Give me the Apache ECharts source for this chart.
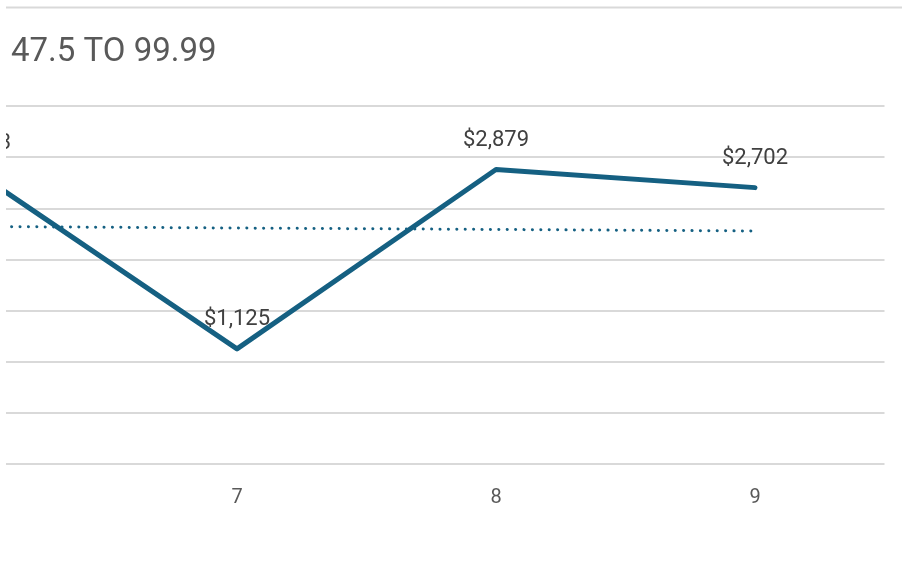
<!DOCTYPE html>
<html>
<head>
<meta charset="utf-8">
<script src="https://cdn.jsdelivr.net/npm/echarts@6/dist/echarts.min.js"></script>
<style>
html,body{margin:0;padding:0;background:#fff;}
#chart{width:902px;height:578px;}
</style>
</head>
<body>
<div id="chart"></div>
<script>
const titleText = "47.5 TO 99.99";
const categories = ["6", "7", "8", "9"];
const salesValues = [2843, 1125, 2879, 2702];
const trendValues = [2322, 2307, 2293, 2278];
const yTicks = [0, 500, 1000, 1500, 2000, 2500, 3000, 3500];

const chart = echarts.init(document.getElementById('chart'), null, {renderer: 'canvas'});
const lineColor = '#156082';
chart.setOption({
  animation: false,
  backgroundColor: '#ffffff',
  title: {
    text: titleText,
    left: 6, top: 31,
    textStyle: {fontFamily: 'Roboto', fontSize: 33, fontWeight: 'normal', color: '#595959'}
  },
  grid: {left: -151.5, right: 17.5, top: 106, bottom: 114, containLabel: false, outerBoundsMode: 'none'},
  xAxis: {
    type: 'category',
    data: categories,
    boundaryGap: true,
    axisLine: {show: false},
    axisTick: {show: false},
    axisLabel: {margin: 24, fontFamily: 'Roboto', fontSize: 20, color: '#595959'}
  },
  yAxis: {
    type: 'value',
    min: yTicks[0],
    max: yTicks[yTicks.length - 1],
    interval: 500,
    axisLabel: {show: false},
    axisLine: {show: false},
    axisTick: {show: false},
    splitLine: {lineStyle: {color: '#d9d9d9', width: 2}}
  },
  series: [
    {
      type: 'line',
      data: trendValues,
      symbol: 'none',
      lineStyle: {color: lineColor, width: 3, type: [0.1, 8.3], cap: 'round'},
      z: 2
    },
    {
      type: 'line',
      data: salesValues,
      symbol: 'circle',
      symbolSize: 1,
      itemStyle: {color: lineColor},
      lineStyle: {color: lineColor, width: 5, cap: 'round', join: 'round'},
      label: {
        show: true, position: 'top', distance: 18,
        fontFamily: 'Roboto', fontSize: 22, color: '#404040',
        formatter: p => '$' + p.value.toLocaleString('en-US')
      },
      z: 3
    }
  ],
  graphic: [
    {type: 'rect', left: 0, top: 0, shape: {x: 0, y: 0, width: 6, height: 578}, style: {fill: '#fff'}, z: 100},
    {type: 'line', shape: {x1: 6, y1: 7.5, x2: 902, y2: 7.5}, style: {stroke: '#d9d9d9', lineWidth: 2}, z: 100}
  ]
});
</script>
</body>
</html>
